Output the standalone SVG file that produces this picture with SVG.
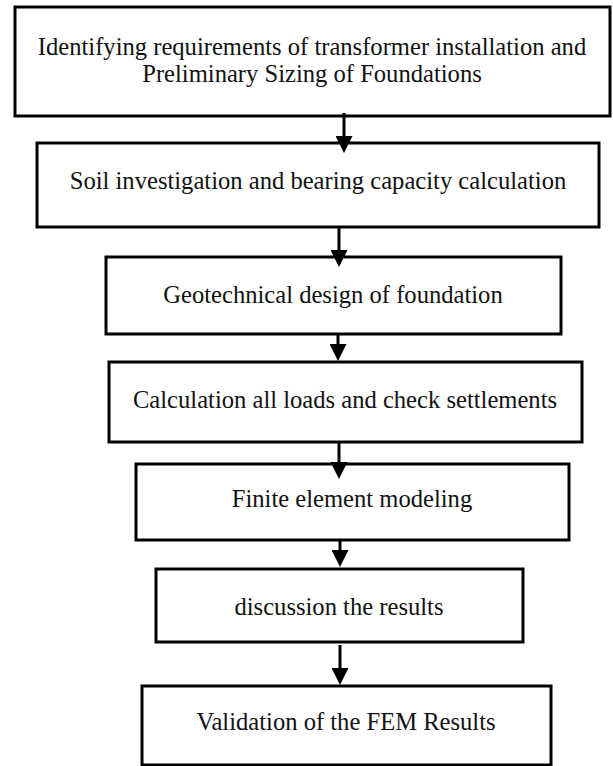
<svg xmlns="http://www.w3.org/2000/svg" width="613" height="766" viewBox="0 0 613 766">
<style>
.box{fill:#fff;stroke:#000;stroke-width:3}
.lbl{font-family:"Liberation Serif","Times New Roman",serif;font-size:24.6px;fill:#111;text-anchor:middle}
.conn{stroke:#000;stroke-width:3;fill:none}
</style>
<defs>
<marker id="ah" markerUnits="userSpaceOnUse" viewBox="0 0 17 17" refX="0" refY="8.5" markerWidth="17" markerHeight="17" orient="auto">
<path d="M0,0 L17,8.5 L0,17 z" fill="#000"/>
</marker>
</defs>
<rect width="613" height="766" fill="#fff"/>
<g id="n1"><rect class="box" x="15" y="7" width="595" height="109"/>
<text class="lbl" x="312" y="55">Identifying requirements of transformer installation and</text>
<text class="lbl" x="312" y="82">Preliminary Sizing of Foundations</text></g>
<g id="n2"><rect class="box" x="37" y="143" width="562" height="84"/>
<text class="lbl" x="318" y="189">Soil investigation and bearing capacity calculation</text></g>
<g id="n3"><rect class="box" x="106" y="257" width="455" height="77"/>
<text class="lbl" x="333" y="303">Geotechnical design of foundation</text></g>
<g id="n4"><rect class="box" x="109" y="362" width="473" height="80"/>
<text class="lbl" x="345" y="408">Calculation all loads and check settlements</text></g>
<g id="n5"><rect class="box" x="136" y="464" width="433" height="76"/>
<text class="lbl" x="352" y="507">Finite element modeling</text></g>
<g id="n6"><rect class="box" x="156" y="569" width="367" height="73"/>
<text class="lbl" x="339" y="615">discussion the results</text></g>
<g id="n7"><rect class="box" x="142" y="686" width="409" height="79"/>
<text class="lbl" x="346" y="730">Validation of the FEM Results</text></g>
<g id="connectors">
<line class="conn" x1="344" y1="113" x2="344" y2="136" marker-end="url(#ah)"/>
<line class="conn" x1="339" y1="227" x2="339" y2="250" marker-end="url(#ah)"/>
<line class="conn" x1="338" y1="334" x2="338" y2="344" marker-end="url(#ah)"/>
<line class="conn" x1="339" y1="442" x2="339" y2="462" marker-end="url(#ah)"/>
<line class="conn" x1="340" y1="540" x2="340" y2="550" marker-end="url(#ah)"/>
<line class="conn" x1="340" y1="645" x2="340" y2="668" marker-end="url(#ah)"/>
</g>
</svg>
